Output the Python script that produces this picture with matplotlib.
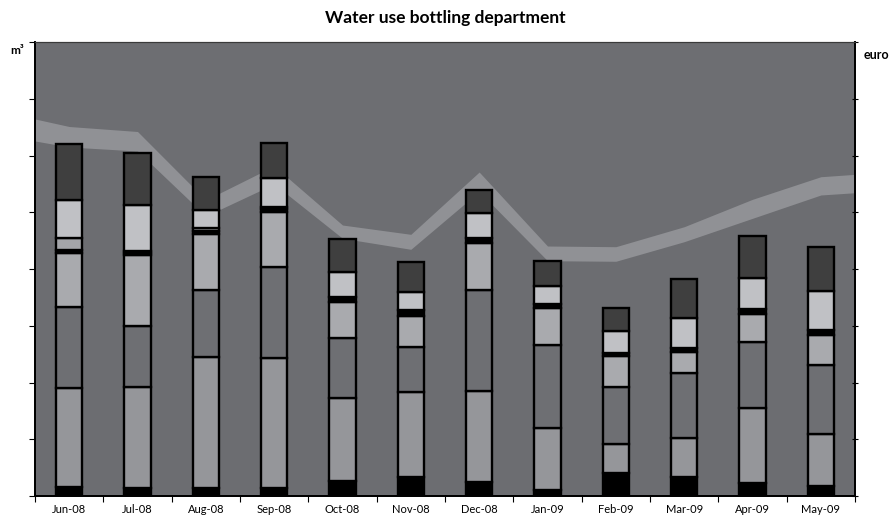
import matplotlib
matplotlib.use("Agg")
import matplotlib.pyplot as plt
import numpy as np

# Months on the category axis
months = ["Jun-08", "Jul-08", "Aug-08", "Sep-08", "Oct-08", "Nov-08",
          "Dec-08", "Jan-09", "Feb-09", "Mar-09", "Apr-09", "May-09"]

# Water use per consumer (m³), stacked bottom to top
use_s1 = [16, 14, 14, 14, 26, 33, 25, 11, 41, 33, 23, 18]
use_s2 = [174, 178, 231, 229, 146, 150, 160, 109, 51, 69, 132, 92]
use_s3 = [143, 107, 118, 160, 107, 79, 178, 146, 100, 115, 116, 120]
use_s4 = [95, 125, 99, 97, 62, 56, 83, 65, 55, 37, 49, 53]
use_s5 = [5, 5, 5, 5, 9, 9, 9, 7, 5, 7, 9, 9]
use_s6 = [21, 2, 5, 4, 0, 0, 0, 0, 0, 0, 0, 0]
use_s7 = [67, 81, 32, 51, 44, 33, 44, 32, 39, 53, 56, 69]
use_s8 = [100, 92, 58, 62, 58, 53, 41, 44, 41, 69, 74, 78]

# Costs (euro): base amount and the surcharge stacked on top of it
cost_base = [6150, 6079, 4934, 5498, 4541, 4347, 5365, 4146, 4136, 4481, 4893, 5304]
cost_extra = [361, 344, 282, 317, 234, 264, 344, 259, 257, 264, 335, 322]
# values where the cost band meets the left and right plot edges
cost_base_edges = [6256, 5344]
cost_extra_edges = [388, 324]

series = [use_s1, use_s2, use_s3, use_s4, use_s5, use_s6, use_s7, use_s8]
colors = ["#000000", "#95969a", "#6e6f73", "#a9aaae",
          "#000000", "#a4a5a9", "#c0c1c5", "#3f3f3f"]

bg = "#6d6e72"

fig = plt.figure(figsize=(8.92, 5.19), dpi=100)
ax = fig.add_axes([35 / 892, 23 / 519, 820 / 892, 454 / 519])
ax2 = ax.twinx()

# cost band on the secondary axis, drawn behind the columns
ax.set_zorder(ax2.get_zorder() + 1)
ax.patch.set_visible(False)
ax2.patch.set_visible(True)
ax2.patch.set_facecolor(bg)

n = len(months)
x = np.arange(n)
xe = np.r_[-0.5, x, n - 0.5]
base = np.r_[cost_base_edges[0], cost_base, cost_base_edges[1]]
extra = np.r_[cost_extra_edges[0], cost_extra, cost_extra_edges[1]]
ax2.fill_between(xe, 0, base, color="#6c6d71", linewidth=0)
ax2.fill_between(xe, base, base + extra, color="#909195", linewidth=0)
ax2.set_ylim(0, 8000)
ax2.set_yticks(np.arange(0, 8001, 1000))
ax2.set_yticklabels([])
ax2.tick_params(axis="y", direction="inout", length=5, width=0.8, color="#000000")

bottom = np.zeros(n)
for vals, c in zip(series, colors):
    ax.bar(x, vals, width=0.39, bottom=bottom, color=c,
           edgecolor="#000000", linewidth=1.7)
    bottom += np.array(vals)

ax.set_xlim(-0.5, n - 0.5)
ax2.set_xlim(-0.5, n - 0.5)
ax.set_ylim(0, 800)
ax.set_yticks(np.arange(0, 801, 100))
ax.set_yticklabels([])
ax.set_xticks(x)
ax.set_xticklabels(months, fontsize=8, family="Lato")
ax.set_xticks(np.arange(-0.5, n, 1), minor=True)
ax.tick_params(axis="x", which="major", length=0, pad=6)
ax.tick_params(axis="x", which="minor", length=4, width=0.8, direction="out")
ax.tick_params(axis="y", length=4, width=0.8, direction="out")

for a in (ax, ax2):
    for side in ("left", "right", "bottom"):
        a.spines[side].set_color("#000000")
        a.spines[side].set_linewidth(1.3)
    a.spines["top"].set_color("#3a3a3a")
    a.spines["top"].set_linewidth(0.8)

fig.text(445 / 892, 1 - 18 / 519, "Water use bottling department", ha="center",
         va="center", fontsize=12.5, fontweight="bold", family="Lato")
fig.text(17 / 892, 1 - 51 / 519, "m³", ha="center", va="center",
         fontsize=8.5, fontweight="bold", family="Lato")
fig.text(876 / 892, 1 - 55 / 519, "euro", ha="center", va="center",
         fontsize=9, fontweight="bold", family="Lato")

fig.savefig("out.png", dpi=100)
